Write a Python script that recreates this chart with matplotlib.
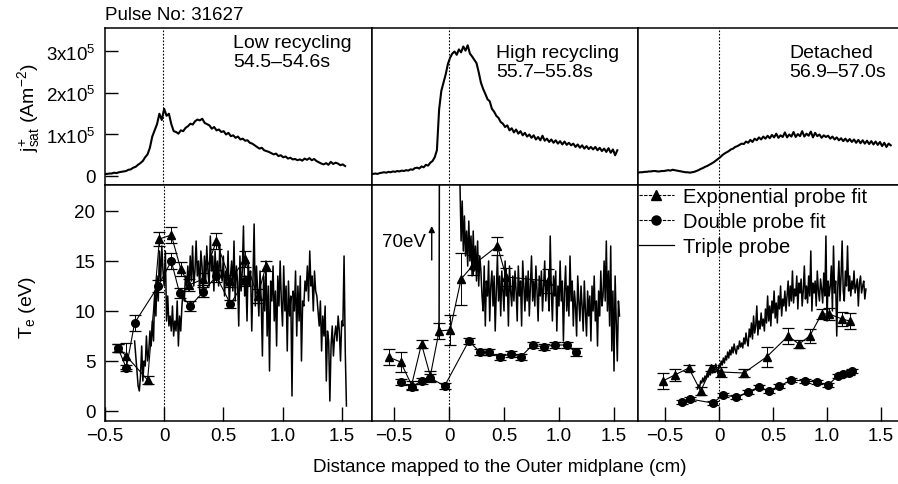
# -*- encoding: utf-8 -*-
# jsat and Te profiles across the divertor, three phases of pulse 31627
import numpy as np
import matplotlib.pyplot as plt
from matplotlib.lines import Line2D

# %% data -------------------------------------------------------------
# ion saturation current (units of 1e5 A/m2), sampled every 0.02 cm
jsat1_x0 = -0.49
jsat1 = [0.05, 0.05, 0.06, 0.06, 0.08, 0.07, 0.09, 0.10, 0.11, 0.12,
         0.15, 0.16, 0.20, 0.22, 0.27, 0.31, 0.36, 0.45, 0.52, 0.68,
         0.95, 1.10, 1.25, 1.50, 1.35, 1.62, 1.45, 1.50, 1.25, 1.08,
         1.06, 1.02, 1.10, 1.08, 1.16, 1.20, 1.26, 1.24, 1.32, 1.36,
         1.34, 1.38, 1.28, 1.25, 1.22, 1.14, 1.18, 1.10, 1.12, 1.06,
         1.08, 1.00, 1.04, 0.96, 0.98, 0.92, 0.95, 0.88, 0.90, 0.85,
         0.86, 0.80, 0.78, 0.74, 0.70, 0.66, 0.68, 0.62, 0.60, 0.58,
         0.55, 0.52, 0.54, 0.48, 0.50, 0.45, 0.47, 0.42, 0.44, 0.40,
         0.41, 0.38, 0.40, 0.37, 0.42, 0.39, 0.43, 0.38, 0.41, 0.36,
         0.33, 0.30, 0.28, 0.31, 0.27, 0.34, 0.29, 0.32, 0.30, 0.26,
         0.28, 0.24]
jsat2_x0 = -0.69
jsat2 = [0.05, 0.06, 0.05, 0.07, 0.08, 0.09, 0.08, 0.10, 0.09, 0.11,
         0.10, 0.12, 0.11, 0.13, 0.12, 0.14, 0.13, 0.16, 0.15, 0.19,
         0.20, 0.18, 0.23, 0.21, 0.27, 0.25, 0.32, 0.36, 0.45, 0.62,
         1.60, 2.05, 2.25, 2.45, 2.70, 2.85, 2.95, 3.00, 2.92, 3.05,
         2.98, 3.12, 3.02, 3.15, 2.95, 2.88, 2.80, 2.72, 2.50, 2.25,
         2.10, 1.98, 1.85, 1.80, 1.62, 1.55, 1.45, 1.40, 1.30, 1.26,
         1.18, 1.22, 1.10, 1.15, 1.05, 1.12, 1.02, 1.08, 0.98, 1.04,
         0.95, 1.00, 0.92, 0.98, 0.88, 0.94, 0.86, 0.97, 0.85, 0.90,
         0.82, 0.88, 0.80, 0.86, 0.78, 0.84, 0.76, 0.83, 0.75, 0.80,
         0.74, 0.78, 0.70, 0.76, 0.68, 0.74, 0.66, 0.72, 0.65, 0.70,
         0.64, 0.70, 0.62, 0.68, 0.60, 0.66, 0.58, 0.67, 0.56, 0.64,
         0.50, 0.62]
jsat3_x0 = -0.75
jsat3 = [0.08, 0.09, 0.09, 0.10, 0.10, 0.11, 0.11, 0.12, 0.12, 0.11,
         0.11, 0.12, 0.12, 0.13, 0.14, 0.13, 0.15, 0.14, 0.13, 0.12,
         0.11, 0.10, 0.09, 0.09, 0.08, 0.09, 0.10, 0.12, 0.14, 0.17,
         0.19, 0.22, 0.24, 0.27, 0.30, 0.33, 0.37, 0.41, 0.45, 0.50,
         0.54, 0.57, 0.60, 0.64, 0.66, 0.70, 0.72, 0.75, 0.78, 0.77,
         0.83, 0.80, 0.87, 0.82, 0.90, 0.86, 0.93, 0.88, 0.95, 0.90,
         0.97, 0.91, 0.99, 0.93, 1.02, 0.92, 0.98, 0.94, 1.05, 0.93,
         1.00, 0.95, 1.06, 0.94, 1.01, 0.96, 1.08, 0.95, 1.02, 0.97,
         1.07, 0.93, 1.04, 0.96, 1.00, 0.92, 0.98, 0.94, 0.97, 0.90,
         0.95, 0.88, 0.93, 0.86, 0.91, 0.84, 0.90, 0.83, 0.89, 0.82,
         0.88, 0.80, 0.87, 0.79, 0.86, 0.78, 0.85, 0.77, 0.84, 0.76,
         0.83, 0.75, 0.82, 0.72, 0.80, 0.70, 0.78, 0.74]
jsat_dx = 0.02

# triple probe Te (eV), sampled every 0.01 cm
tri1_x0 = -0.25
tri1 = [7.0, 5.5, 4.0, 2.5, 2.0,
        3.5, 6.5, 3.0, 5.0, 4.5, 7.5, 5.0, 6.0, 8.0, 6.5,
        9.0, 7.0, 12.0, 9.5, 13.5, 11.0, 16.0,
        13.0, 16.5, 14.0,
        12.5, 16.0, 9.0, 11.5, 8.5,
        9.5, 8.0, 10.5, 7.5, 9.0, 8.0, 11.0, 6.5, 9.5, 8.0,
        10.5, 12.0, 11.0, 13.5, 12.5,
        14.5, 12.0, 15.5, 13.0, 16.5, 12.5, 14.0, 17.0, 13.5, 15.0,
        12.0, 16.0, 14.5, 11.5, 15.5, 13.0, 16.5, 14.0, 12.5, 17.5,
        14.0, 15.5, 12.0, 16.0, 13.5, 15.0, 12.5, 16.5, 14.0, 13.0,
        15.5, 11.5, 14.0, 12.5, 16.0, 10.5, 13.5, 15.0, 12.0, 17.0,
        11.0, 14.5, 13.0, 8.5, 15.5, 12.0, 14.0, 18.5, 11.5, 13.5,
        9.0, 15.0, 12.5, 14.0, 8.0, 13.0, 18.7, 10.5, 14.5, 12.0,
        9.5, 14.0, 11.0, 5.5, 13.5, 10.0, 15.0, 7.5, 12.5, 4.0,
        13.0, 11.0, 14.5, 9.0, 12.0, 6.5, 13.5, 10.5, 15.0, 11.0,
        8.5, 14.5, 10.0, 12.5, 6.0, 13.0, 9.5, 11.5, 1.5, 12.0,
        10.0, 14.0, 7.5, 12.5, 9.0, 13.5, 5.0, 11.0, 10.5, 13.0,
        12.0, 14.5, 11.0, 16.0, 12.5, 13.5, 10.0, 14.0, 12.0, 11.5,
        10.0, 8.5, 11.0, 6.0, 9.5, 7.5, 10.5, 3.0, 8.0, 7.0,
        1.0, 6.5, 8.5, 5.5, 7.5,
        8.5, 7.0, 9.5, 8.0, 5.0, 9.0, 8.5, 15.5, 6.0, 0.5]
tri2_x0 = -0.10
tri2 = [7.5, 9.0, 70.0,
        70.0, 60.0, 55.0, 50.0, 48.0, 45.0, 42.0, 40.0, 38.0, 36.0,
        35.0, 33.0, 30.0, 28.0, 27.0, 26.0, 24.0,
        22.5, 17.0, 21.0, 16.0, 19.5, 15.5, 18.0, 14.5, 19.0, 15.0,
        17.5, 13.5, 18.0, 14.0, 16.5, 13.0, 17.0, 12.5, 15.5, 14.0, 11.5,
        10.0, 14.5, 8.5, 13.0, 11.5, 15.0, 9.0, 12.5, 14.0, 10.5,
        13.5, 8.0, 12.0, 15.5, 11.0, 13.5, 9.5, 14.0, 12.0, 10.0,
        15.0, 11.5, 13.0, 8.5, 14.5, 12.0, 10.5, 13.5, 11.0, 14.0,
        12.0, 9.0, 14.5, 11.5, 13.0, 8.5, 15.0, 12.5, 10.0, 13.5,
        11.0, 14.0, 9.5, 12.5, 15.5, 11.0, 13.0, 10.5, 14.5, 12.0,
        9.0, 13.5, 11.5, 14.0, 10.0, 12.5, 15.0, 11.0, 13.0, 12.0,
        10.0, 17.5, 12.0, 9.0, 13.5, 11.5, 14.0, 8.0, 12.5, 10.5,
        15.0, 11.0, 13.0, 7.0, 12.0, 14.5, 10.0, 12.5, 9.5, 15.5,
        11.0, 13.0, 8.5, 12.0, 10.5, 7.5, 13.5, 11.0, 9.0, 12.5,
        10.5, 8.0, 13.0, 10.0, 7.5, 12.0, 9.5, 11.5, 7.0, 12.5,
        10.0, 13.5, 9.0, 11.0, 6.5, 12.0, 9.5, 14.0, 10.5, 11.5,
        15.0, 11.0, 17.0, 10.0, 14.0, 8.5, 16.5, 6.0, 12.0, 4.0,
        13.5, 9.0, 5.0, 11.0, 9.5]
tri3_x0 = -0.20
tri3 = [2.2, 2.6, 2.3, 3.0, 2.8, 3.3, 2.9, 3.5, 3.2, 3.8, 3.4,
        3.9, 3.6, 4.2, 3.8, 4.5, 4.0, 4.7, 4.2, 3.7, 4.6,
        4.3, 5.0, 4.6, 5.3, 4.8, 5.5, 5.1, 5.9, 5.3, 6.1,
        5.6, 6.4, 5.8, 6.7, 6.1, 5.7, 6.5, 6.2, 7.0, 6.4,
        6.8, 6.3, 7.3, 6.7, 7.8, 7.0, 6.5, 8.2, 7.4, 8.8,
        7.2, 9.5, 7.8, 8.5, 10.5, 7.6, 9.0, 8.2, 9.8, 8.5,
        9.2, 8.0, 10.2, 8.8, 11.5, 9.0, 10.5, 8.5, 11.0, 9.8,
        12.0, 9.3, 10.8, 8.8, 11.5, 10.2, 12.5, 9.5, 11.2, 10.5,
        12.0, 10.0, 11.5, 13.0, 10.5, 12.5, 11.0, 14.0, 10.8, 12.2,
        11.5, 13.5, 10.2, 12.8, 11.8, 13.2, 10.5, 12.0, 14.5, 11.2,
        12.5, 10.8, 13.5, 11.5, 16.0, 10.0, 12.8, 11.8, 13.0, 10.5,
        14.0, 12.0, 11.0, 13.2, 12.2, 10.8, 13.8, 11.5, 17.5, 9.0,
        13.0, 11.5, 12.5, 14.5, 10.0, 16.5, 11.8, 13.0, 7.5, 12.5,
        15.0, 11.0, 13.5, 17.0, 12.0, 11.0, 14.0, 12.5, 16.5, 12.0,
        13.5, 11.5, 13.0, 12.2, 14.0, 11.8, 12.5, 13.2, 10.5, 12.8,
        13.5, 11.8, 12.5, 13.0, 11.2, 12.2]
tri_dx = 0.01

# exponential probe fit
exp1_x = [-0.39, -0.32, -0.14, -0.04, 0.06, 0.14, 0.21, 0.33, 0.44, 0.56, 0.68, 0.79, 0.86]
exp1_te = [6.3, 5.5, 3.1, 17.2, 17.6, 14.2, 12.6, 13.2, 17.0, 13.0, 15.2, 11.5, 14.5]
exp1_err = [0.4, 1.3, 0.4, 0.7, 0.8, 0.7, 0.6, 0.6, 0.8, 0.6, 0.8, 0.7, 0.5]
exp2_x = [-0.55, -0.44, -0.34, -0.25, -0.17, -0.09, 0.01, 0.11, 0.22, 0.44, 0.52, 0.90]
exp2_te = [5.4, 4.9, 2.6, 6.7, 3.5, 8.0, 8.1, 13.2, 14.6, 16.5, 13.4, 13.0]
exp2_err = [0.8, 1.0, 0.4, 0.4, 0.5, 0.8, 1.5, 2.6, 1.0, 0.9, 0.9, 1.2]
exp3_x = [-0.52, -0.41, -0.28, -0.17, -0.07, 0.02, 0.23, 0.44, 0.64, 0.74, 0.84, 0.95, 1.02, 1.14, 1.21]
exp3_te = [3.0, 3.6, 4.3, 2.0, 4.3, 3.9, 3.8, 5.4, 7.5, 6.7, 7.5, 9.7, 9.7, 9.2, 9.0]
exp3_err = [0.8, 0.6, 0.3, 0.4, 0.3, 0.5, 0.4, 1.0, 0.8, 0.4, 0.7, 0.5, 0.6, 0.7, 0.8]

# double probe fit
dbl1_x = [-0.39, -0.32, -0.25, -0.05, 0.06, 0.13, 0.22, 0.33, 0.44, 0.56, 0.68]
dbl1_te = [6.3, 4.3, 8.8, 12.5, 15.0, 11.8, 10.5, 11.9, 13.5, 10.7, 13.0]
dbl1_err = [0.4, 0.3, 0.8, 0.6, 0.8, 0.5, 0.5, 0.5, 0.6, 0.4, 0.5]
dbl2_x = [-0.44, -0.34, -0.25, -0.17, -0.04, 0.18, 0.28, 0.36, 0.46, 0.56, 0.65, 0.76, 0.86, 0.96, 1.07, 1.15]
dbl2_te = [2.9, 2.4, 3.0, 3.3, 2.5, 7.0, 5.9, 5.9, 5.4, 5.7, 5.4, 6.6, 6.4, 6.6, 6.6, 5.9]
dbl2_err = [0.3, 0.3, 0.3, 0.4, 0.3, 0.3, 0.3, 0.3, 0.3, 0.3, 0.3, 0.3, 0.3, 0.3, 0.3, 0.4]
dbl3_x = [-0.34, -0.27, -0.06, 0.04, 0.16, 0.27, 0.37, 0.46, 0.56, 0.67, 0.80, 0.91, 1.01, 1.10, 1.15, 1.20, 1.23]
dbl3_te = [0.9, 1.2, 0.8, 1.6, 1.4, 1.9, 2.4, 2.0, 2.5, 3.1, 3.0, 2.9, 2.6, 3.5, 3.7, 3.8, 4.0]

labels_phase = ['Low recycling\n54.5\u201354.6s',
                'High recycling\n55.7\u201355.8s',
                'Detached\n56.9\u201357.0s']
xtick_vals = [-0.5, 0, 0.5, 1.0, 1.5]
xtick_txt = ['\u22120.5', '0', '0.5', '1.0', '1.5']
jtick_vals = [0, 1, 2, 3]
jtick_txt = ['0', '1x10$^5$', '2x10$^5$', '3x10$^5$']

# %% style -------------------------------------------------------------
plt.rcParams['font.family'] = ['Liberation Sans', 'DejaVu Sans']
plt.rcParams['mathtext.default'] = 'regular'
plt.rcParams['axes.linewidth'] = 1.1
fs = 13.5
ms = 5.5

W, H = 898, 485
fig = plt.figure(figsize=(W / 100, H / 100), dpi=100)

def px_axes(x0, x1, y0, y1):
    # pixel box -> figure axes
    return fig.add_axes([x0 / W, 1 - y1 / H, (x1 - x0) / W, (y1 - y0) / H])

col_px = [(105, 372), (372, 638), (638, 905)]
col_xlim = [(-0.487, 1.756), (-0.70, 1.718), (-0.75, 1.722)]
jsat_all = [(jsat1_x0, jsat1), (jsat2_x0, jsat2), (jsat3_x0, jsat3)]
tri_all = [(tri1_x0, tri1), (tri2_x0, tri2), (tri3_x0, tri3)]
exp_all = [(exp1_x, exp1_te, exp1_err), (exp2_x, exp2_te, exp2_err), (exp3_x, exp3_te, exp3_err)]
dbl_all = [(dbl1_x, dbl1_te, dbl1_err), (dbl2_x, dbl2_te, dbl2_err),
           (dbl3_x, dbl3_te, [0.2] * len(dbl3_x))]

label_pos = [(233, 35), (496, 45), (789, 45)]

for i in range(3):
    x0, x1 = col_px[i]
    # ---- top row: jsat
    ax = px_axes(x0, x1, 29, 186)
    xs0, vals = jsat_all[i]
    xx = xs0 + jsat_dx * np.arange(len(vals))
    ax.plot(xx, vals, color='k', lw=1.5)
    ax.axvline(0, color='k', ls=(0, (1.5, 1.5)), lw=0.8)
    ax.set_xlim(*col_xlim[i])
    ax.set_ylim(-0.217, 3.566)
    ax.set_xticks([])
    if i == 0:
        ax.set_yticks(jtick_vals)
        ax.set_yticklabels(jtick_txt)
        ax.tick_params(axis='y', direction='in', length=9, width=1, labelsize=fs, pad=7)
    else:
        ax.set_yticks([])
    fig.text(label_pos[i][0] / W, 1 - label_pos[i][1] / H, labels_phase[i],
             fontsize=fs + 0.5, va='top', ha='left', linespacing=1.15)

    # ---- bottom row: Te
    ax = px_axes(x0, x1, 186, 422)
    xs0, vals = tri_all[i]
    xx = xs0 + tri_dx * np.arange(len(vals))
    ax.plot(xx, vals, color='k', lw=1.1)
    ex, ey, ee = exp_all[i]
    ax.errorbar(ex, ey, yerr=ee, color='k', lw=0.8, marker='^', ms=ms,
                capsize=4, elinewidth=0.7, capthick=0.9)
    dx_, dy_, de_ = dbl_all[i]
    ax.errorbar(dx_, dy_, yerr=de_, color='k', lw=0.8, marker='o', ms=ms,
                capsize=4, elinewidth=0.7, capthick=0.9)
    ax.axvline(0, color='k', ls=(0, (1.5, 1.5)), lw=0.8)
    ax.set_xlim(*col_xlim[i])
    ax.set_ylim(-1.0, 22.6)
    ax.set_xticks(xtick_vals)
    ax.set_xticklabels(xtick_txt)
    ax.tick_params(axis='x', direction='in', length=10, width=1, labelsize=fs, pad=4)
    if i == 0:
        ax.set_yticks([0, 5, 10, 15, 20])
        ax.tick_params(axis='y', direction='in', length=9, width=1, labelsize=fs, pad=7)
    else:
        ax.set_yticks([])
    if i == 1:
        ax.text(-0.61, 16.9, '70eV', fontsize=fs, va='center', ha='left')
        ax.annotate('', xy=(-0.157, 18.5), xytext=(-0.157, 15.1),
                    arrowprops=dict(arrowstyle='-|>', lw=1.0, color='k',
                                    mutation_scale=9, shrinkA=0, shrinkB=0))
    if i == 2:
        hnd = [Line2D([], [], color='k', lw=0.8, marker='^', ms=ms + 1, ls=(0, (3, 1.2))),
               Line2D([], [], color='k', lw=0.8, marker='o', ms=ms + 1, ls=(0, (3, 1.2))),
               Line2D([], [], color='k', lw=0.9)]
        ax.legend(hnd, ['Exponential probe fit', 'Double probe fit', 'Triple probe'],
                  loc='upper left', bbox_to_anchor=(0.005, 0.99), frameon=False,
                  fontsize=fs + 1, handlelength=1.7, handletextpad=0.45,
                  labelspacing=0.3, borderaxespad=0.0, borderpad=0.0)

fig.text(105 / W, 1 - 15 / H, 'Pulse No: 31627', fontsize=fs, va='center', ha='left')
fig.text(29 / W, 1 - 108 / H, 'j$^{+}_{sat}$ (Am$^{-2}$)', fontsize=fs + 0.5,
         rotation=90, va='center', ha='center')
fig.text(28 / W, 1 - 307 / H, 'T$_{e}$ (eV)', fontsize=fs + 0.5,
         rotation=90, va='center', ha='center')
fig.text(500 / W, 1 - 468 / H, 'Distance mapped to the Outer midplane (cm)',
         fontsize=fs, va='center', ha='center')

fig.savefig('out.png', dpi=100)
